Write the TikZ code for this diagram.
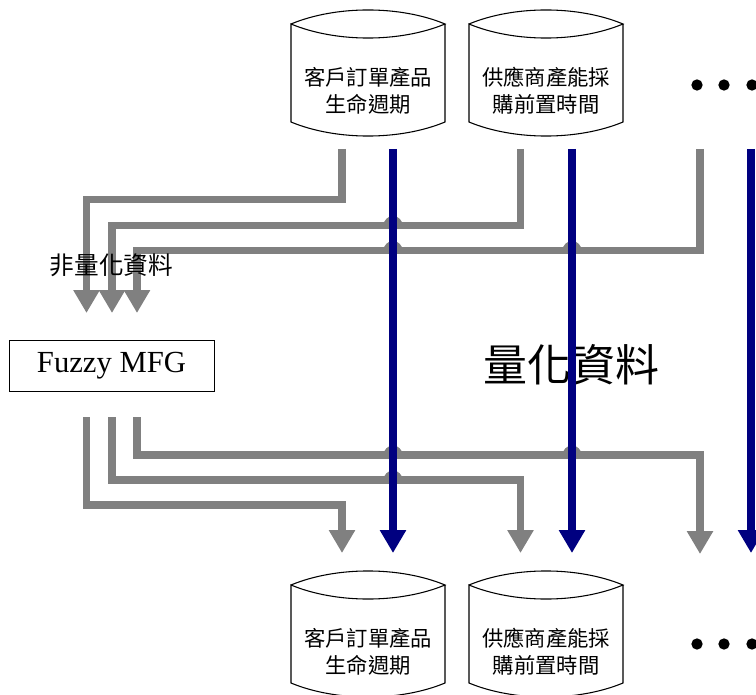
\documentclass[tikz,border=0pt]{standalone}
\usepackage{fontspec}
\setmainfont{Liberation Serif}
\newfontfamily\cjk{Noto Sans CJK TC}
\usetikzlibrary{arrows.meta}
\definecolor{fgray}{HTML}{808080}
\definecolor{fblue}{HTML}{000080}
\newcommand{\dbcyl}[4]{%
  \draw[cylline,shift={(#2,#3)}] (0,0) .. controls (45,-18.7) and (109,-18.7) .. (154,0)
     .. controls (109,18.7) and (45,18.7) .. (0,0) -- (0,98)
     .. controls (45,116.7) and (109,116.7) .. (154,98) -- (154,0);
  \node[cyltext] (#1) at (#2+77,#3+66.5) {#4};}
\begin{document}
\begin{tikzpicture}[x=0.75pt,y=-0.75pt,
  flowtip/.style={-{Triangle[width=18.75pt,length=17.25pt]}},
  gflow/.style={draw=fgray,line width=5.7pt,line join=miter,flowtip},
  bflow/.style={draw=fblue,line width=5.7pt,flowtip},
  bump/.style={fill=fgray},
  cylline/.style={draw=black,line width=0.8pt},
  cyltext/.style={font=\cjk\fontsize{16pt}{20.25pt}\selectfont,align=center,inner sep=0pt},
  dot/.style={circle,fill=black,minimum size=8.5pt,inner sep=0pt},
  mfgbox/.style={draw=black,line width=0.7pt,minimum width=153.75pt,minimum height=38.25pt,inner sep=0pt,font=\fontsize{23pt}{27pt}\selectfont}]
\useasboundingbox (0,0) rectangle (756,695);
\clip (0,0) rectangle (756,695);

% storage cylinders
\dbcyl{c1}{291}{24}{客戶訂單產品\\生命週期}
\dbcyl{c2}{469}{24}{供應商產能採\\購前置時間}
\dbcyl{d1}{291}{585}{客戶訂單產品\\生命週期}
\dbcyl{d2}{469}{585}{供應商產能採\\購前置時間}

% dots
\node[dot] (tdot1) at (697,85) {};
\node[dot] (tdot2) at (724,85) {};
\node[dot] (tdot3) at (752,85) {};
\node[dot] (bdot1) at (697,644) {};
\node[dot] (bdot2) at (724,644) {};
\node[dot] (bdot3) at (752,644) {};

% big label
\node[font=\cjk\fontsize{33pt}{36pt}\selectfont,inner sep=0pt] (qlabel) at (571,365) {量化資料};

% Fuzzy MFG box
\node[mfgbox] (mfg) at (111.5,365.5) {Fuzzy MFG};

% named coordinates for connector ends
\coordinate (s1) at (342,149);
\coordinate (s2) at (520.5,149);
\coordinate (s3) at (700,149);
\coordinate (t1) at (86.5,313);
\coordinate (t2) at (112,313);
\coordinate (t3) at (137,313);
\coordinate (u1) at (86.5,417);
\coordinate (u2) at (112,417);
\coordinate (u3) at (137,417);
\coordinate (e1) at (342,553);
\coordinate (e2) at (520.5,553);
\coordinate (e3) at (700,554);
\coordinate (b1s) at (393,149);
\coordinate (b2s) at (572,149);
\coordinate (b3s) at (751,149);
\coordinate (b1e) at (393,553);
\coordinate (b2e) at (572,553);
\coordinate (b3e) at (751,553);

% gray (non-quantified) flows
\draw[gflow] (s1) -- ++(0,50.5) -| (t1);
\draw[gflow] (s2) -- ++(0,76.5) -| (t2);
\draw[gflow] (s3) -- ++(0,101.5) -| (t3);
\draw[gflow] (u3) -- ++(0,38) -| (e3);
\draw[gflow] (u2) -- ++(0,63) -| (e2);
\draw[gflow] (u1) -- ++(0,88) -| (e1);

% line jumps
\foreach \bx/\by in {393/225.5,393/250.5,572/250.5,393/455,572/455,393/480}
  \fill[bump] (\bx,\by) ++(-7.1pt,0) arc[start angle=180,end angle=0,radius=7.1pt] -- cycle;

% blue (quantified) flows
\draw[bflow] (b1s) -- (b1e);
\draw[bflow] (b2s) -- (b2e);
\draw[bflow] (b3s) -- (b3e);

% small label
\node[font=\cjk\fontsize{18.5pt}{20pt}\selectfont,inner sep=0pt] (nqlabel) at (111.5,265) {非量化資料};
\end{tikzpicture}
\end{document}
